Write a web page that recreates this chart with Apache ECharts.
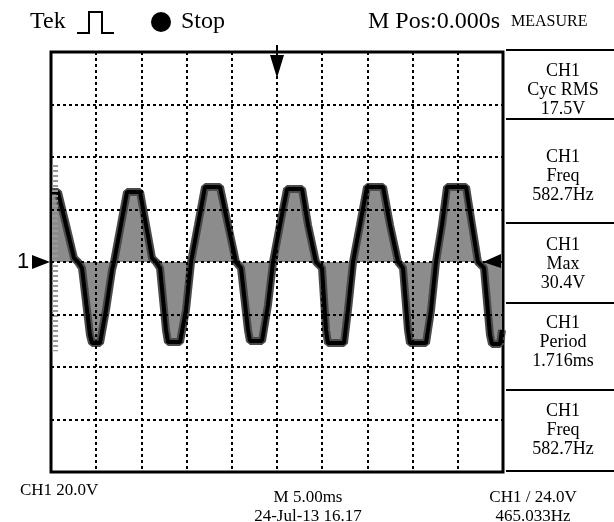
<!DOCTYPE html>
<html><head><meta charset="utf-8">
<script src="https://cdn.jsdelivr.net/npm/echarts@6/dist/echarts.min.js"></script>
<style>html,body{margin:0;padding:0;background:#fff}#c{width:614px;height:522px}</style>
</head><body><div id="c"></div>
<script>
// time in ms (5 ms/div, 10 div), voltage in V (20 V/div, 8 div)
const timeMs = [0.11,0.77,1.66,2.54,2.99,3.43,4.31,4.54,5.42,6.08,6.75,6.97,7.63,8.41,9.85,10.51,11.17,11.62,12.06,12.72,12.94,14.27,14.93,15.49,16.26,17.04,18.69,19.58,20.46,21.02,21.79,22.01,23.34,24.00,24.56,25.33,26.11,27.77,28.43,29.31,29.98,30.42,30.64,32.41,32.85,33.41,34.18,34.96,36.73,37.50,38.39,38.94,39.49,39.71,41.48,42.04,42.59,43.25,43.81,45.91,46.57,47.23,47.90,48.56,48.78,49.67,49.89];
const voltsV = [26.7,26.7,14.1,1.5,0,-2.3,-27.8,-30.9,-30.9,-18.3,-3.0,0,12.2,26.7,26.7,14.1,1.5,0,-2.3,-25.9,-30.5,-30.5,-18.3,0,14.1,28.6,28.6,14.1,0,-2.3,-25.9,-30.1,-30.1,-16.4,0,14.1,27.8,27.8,14.1,0,-2.3,-25.9,-30.9,-30.9,-18.3,0,14.1,28.6,28.6,14.1,0,-2.3,-25.9,-30.9,-30.9,-18.3,0,14.1,28.6,28.6,14.1,0,-2.3,-27.8,-31.2,-31.2,-25.9];
// stippled persistence column at the left screen edge
const edgeTimeMs = [0.45, 0.45];
const edgeVoltsV = [37, -34];
const measureTexts = ['CH1\nCyc RMS\n17.5V','CH1\nFreq\n582.7Hz','CH1\nMax\n30.4V','CH1\nPeriod\n1.716ms','CH1\nFreq\n582.7Hz'];
const measureCenters = [90, 176, 264, 342, 430];
const measureDividers = [50, 119, 223, 303, 390, 471];

const serif = 'Liberation Serif';
const chart = echarts.init(document.getElementById('c'), null, {renderer:'canvas'});
const dotted = {color:'#000', type:[3,3], width:2};
const wave = timeMs.map((t,i)=>[t, voltsV[i]]);
chart.setOption({
  animation:false,
  grid: {left:51, top:52, right:111, bottom:50, show:true, borderColor:'#000', borderWidth:3, backgroundColor:'transparent'},
  xAxis: {type:'value', min:0, max:50, interval:5, z:5, axisLine:{show:false}, axisTick:{show:false}, axisLabel:{show:false}, splitLine:{show:true, lineStyle:dotted}},
  yAxis: {type:'value', min:-80, max:80, interval:20, z:5, axisLine:{show:false}, axisTick:{show:false}, axisLabel:{show:false}, splitLine:{show:true, lineStyle:dotted}},
  series: [
    {type:'line', data: wave, symbol:'none', z:2, lineStyle:{color:'#4a4a4a', width:8}, areaStyle:{color:'#8c8c8c', opacity:1, origin:0}},
    {type:'line', data: wave, symbol:'none', z:3, lineStyle:{color:'#000', width:4}},
    {type:'line', data: edgeTimeMs.map((t,i)=>[t, edgeVoltsV[i]]), symbol:'none', z:3, lineStyle:{color:'#9a9a9a', width:6, type:[2,3]}}
  ]
});

const zero = chart.convertToPixel({gridIndex:0}, [0, 0]);
const trig = chart.convertToPixel({gridIndex:0}, [25, 80]);
const right = chart.convertToPixel({gridIndex:0}, [50, 0]);
const L = zero[0], Y0 = zero[1], TX = trig[0], TY = trig[1], R = right[0];

const g = [];
// header
g.push({type:'text', left:30, top:10, style:{text:'Tek', font:'24px '+serif, fill:'#000'}});
g.push({type:'polyline', shape:{points:[[77,33],[89,33],[89,12],[102,12],[102,33],[114,33]]}, style:{stroke:'#000', lineWidth:2, fill:null}});
g.push({type:'circle', shape:{cx:161, cy:22, r:10}, style:{fill:'#000'}});
g.push({type:'text', left:181, top:10, style:{text:'Stop', font:'24px '+serif, fill:'#000'}});
g.push({type:'text', left:368, top:10, style:{text:'M Pos:0.000s', font:'24px '+serif, fill:'#000'}});
g.push({type:'text', left:511, top:14, style:{text:'MEASURE', font:'16px '+serif, fill:'#000'}});
// measure panel
measureDividers.forEach(y => g.push({type:'line', shape:{x1:R+3, y1:y, x2:614, y2:y}, style:{stroke:'#000', lineWidth:2}}));
measureTexts.forEach((t,i) => g.push({type:'text', x:563, y:measureCenters[i], style:{text:t, font:'18px '+serif, fill:'#000', align:'center', verticalAlign:'middle', lineHeight:19}}));
// footer
g.push({type:'text', x:20, y:491, style:{text:'CH1 20.0V', font:'17px '+serif, fill:'#000', verticalAlign:'middle'}});
g.push({type:'text', x:308, y:488, style:{text:'M 5.00ms\n24-Jul-13 16.17', font:'17px '+serif, fill:'#000', align:'center', verticalAlign:'top', lineHeight:19}});
g.push({type:'text', x:533, y:488, style:{text:'CH1 / 24.0V\n465.033Hz', font:'17px '+serif, fill:'#000', align:'center', verticalAlign:'top', lineHeight:19}});
// markers
g.push({type:'text', x:L-28, y:Y0, style:{text:'1', font:'22px "Liberation Sans"', fill:'#000', align:'center', verticalAlign:'middle'}});
g.push({type:'polygon', shape:{points:[[L-19,Y0-7],[L-1,Y0],[L-19,Y0+7]]}, style:{fill:'#000'}});
g.push({type:'polygon', shape:{points:[[R-2,Y0-8],[R-20,Y0],[R-2,Y0+6]]}, style:{fill:'#000'}, z:10});
g.push({type:'line', shape:{x1:TX, y1:TY-7, x2:TX, y2:TY+4}, style:{stroke:'#000', lineWidth:2}, z:10});
g.push({type:'polygon', shape:{points:[[TX-7,TY+3],[TX+7,TY+3],[TX,TY+26]]}, style:{fill:'#000'}, z:10});
chart.setOption({graphic: g});
</script></body></html>
